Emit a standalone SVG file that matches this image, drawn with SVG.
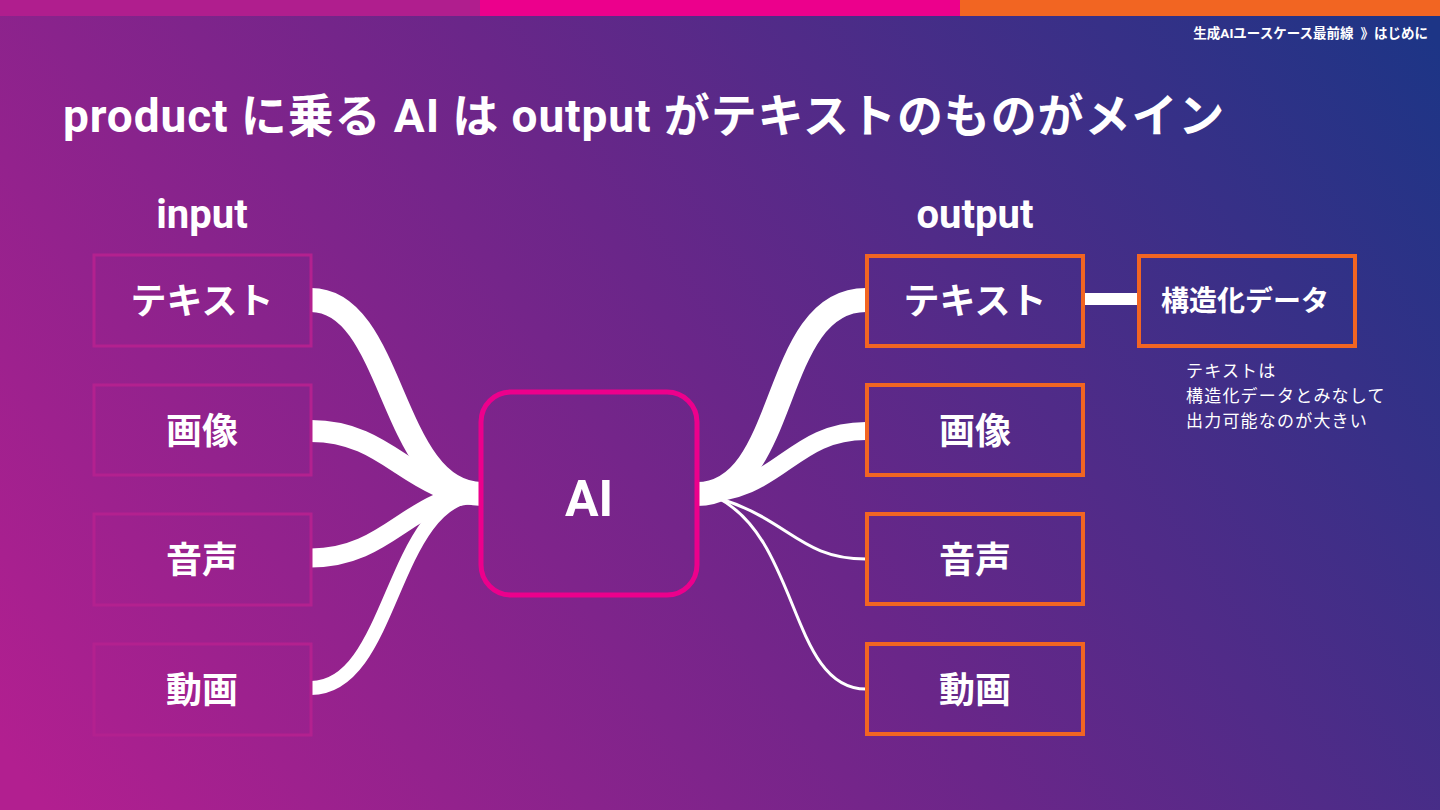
<svg xmlns="http://www.w3.org/2000/svg" width="1440" height="810" viewBox="0 0 1440 810">
<defs>
<linearGradient id="bg" gradientUnits="userSpaceOnUse" x1="80" y1="860" x2="1380" y2="-40">
<stop offset="0" stop-color="#b21f90"/>
<stop offset="0.5" stop-color="#6a2689"/>
<stop offset="1" stop-color="#1d3586"/>
</linearGradient>
<style>
.t{font-family:Roboto,"Noto Sans CJK JP",sans-serif;fill:#fff;font-weight:700}
.lab{font-size:36px;text-anchor:middle}
.inb{fill:none;stroke:#b3218f;stroke-width:3}
.outb{fill:none;stroke:#f26522;stroke-width:4}
.c{fill:none;stroke:#fff;stroke-linecap:butt}
.note{font-family:"Noto Sans CJK JP",sans-serif;fill:#fff;font-size:17px;font-weight:400;letter-spacing:1.2px}
</style>
</defs>
<rect width="1440" height="810" fill="url(#bg)"/>
<rect x="0" y="0" width="480" height="16" fill="#b01e8e"/>
<rect x="480" y="0" width="480" height="16" fill="#ec008c"/>
<rect x="960" y="0" width="480" height="16" fill="#f26522"/>
<text class="t" x="1428" y="38" font-size="13.5" text-anchor="end">生成AIユースケース最前線<tspan dx="7">》はじめに</tspan></text>
<text class="t" x="63" y="132" font-size="46" letter-spacing="0.9">product に乗る AI は output がテキストのものがメイン</text>
<text class="t" x="202" y="228" font-size="40" text-anchor="middle">input</text>
<text class="t" x="975" y="228" font-size="40" text-anchor="middle">output</text>

<g id="connectors">
<path class="c" stroke-width="24" d="M311,300 C395,300 390,494 482,494"/>
<path class="c" stroke-width="22" d="M311,431 C390,431 410,494 482,494"/>
<path class="c" stroke-width="19" d="M311,558 C390,558 410,494 482,494"/>
<path class="c" stroke-width="14" d="M311,688 C395,688 390,494 482,494"/>
<path class="c" stroke-width="24" d="M697,494 C790,494 770,300 866,300"/>
<path class="c" stroke-width="18" d="M697,494 C780,494 790,431 866,431"/>
<path class="c" stroke-width="3" d="M718,498 C790,520 800,559 866,559"/>
<path class="c" stroke-width="3" d="M718,498 C800,540 790,689 866,689"/>
<path class="c" stroke-width="12" d="M1084,299 H1138"/>
</g>

<g id="in-text"><rect class="inb" x="94" y="255" width="217" height="91"/><text class="t lab" x="202" y="314">テキスト</text></g>
<g id="in-image"><rect class="inb" x="94" y="385" width="217" height="90"/><text class="t lab" x="202" y="444">画像</text></g>
<g id="in-audio"><rect class="inb" x="94" y="514" width="217" height="91"/><text class="t lab" x="202" y="573">音声</text></g>
<g id="in-video"><rect class="inb" x="94" y="644" width="217" height="91"/><text class="t lab" x="202" y="703">動画</text></g>

<g id="ai"><rect x="481" y="392" width="216" height="203" rx="30" fill="none" stroke="#ec008c" stroke-width="5"/><text class="t" x="589" y="516" font-size="50" text-anchor="middle">AI</text></g>

<g id="out-text"><rect class="outb" x="867" y="256" width="216" height="90"/><text class="t lab" x="975" y="314">テキスト</text></g>
<g id="out-image"><rect class="outb" x="867" y="385" width="216" height="90"/><text class="t lab" x="975" y="444">画像</text></g>
<g id="out-audio"><rect class="outb" x="867" y="514" width="216" height="90"/><text class="t lab" x="975" y="573">音声</text></g>
<g id="out-video"><rect class="outb" x="867" y="644" width="216" height="90"/><text class="t lab" x="975" y="703">動画</text></g>

<g id="structured"><rect class="outb" x="1139" y="256" width="216" height="90"/><text class="t" x="1245" y="311" font-size="28" text-anchor="middle">構造化データ</text></g>

<g id="note">
<text class="note" x="1186" y="377">テキストは</text>
<text class="note" x="1186" y="402">構造化データとみなして</text>
<text class="note" x="1186" y="427">出力可能なのが大きい</text>
</g>
</svg>
